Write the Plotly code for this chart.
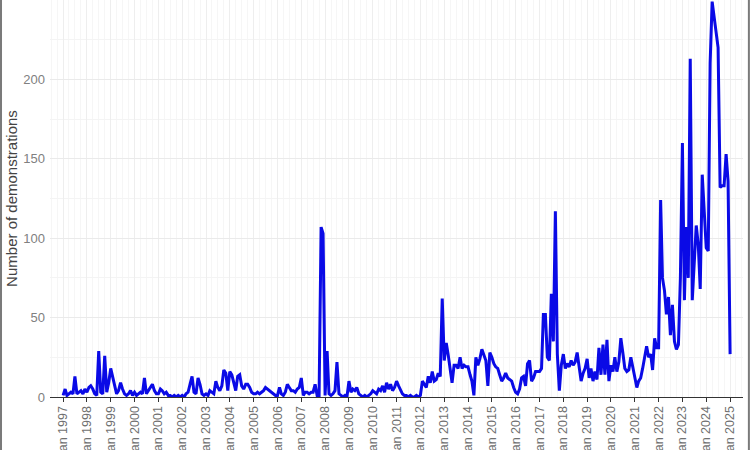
import pandas as pd
import plotly.graph_objects as go

# Monthly number of demonstrations, Jan 1997 - Jan 2025
y1997 = [1, 5, 1, 2, 3, 2, 13, 2, 3, 4, 2, 5]
y1998 = [3, 6, 7, 5, 2, 1, 29, 3, 2, 26, 3, 9]
y1999 = [18, 12, 6, 2, 4, 9, 5, 2, 1, 2, 4, 1]
y2000 = [3, 1, 2, 3, 2, 12, 2, 4, 6, 8, 4, 2]
y2001 = [2, 5, 4, 2, 3, 1, 1, 0, 1, 0, 1, 0]
y2002 = [1, 0, 2, 3, 8, 13, 3, 2, 12, 8, 2, 1]
y2003 = [2, 1, 4, 3, 2, 10, 6, 4, 7, 17, 15, 4]
y2004 = [16, 14, 8, 4, 13, 14, 7, 5, 8, 8, 6, 3]
y2005 = [2, 2, 3, 2, 3, 4, 6, 5, 4, 3, 2, 1]
y2006 = [1, 6, 2, 1, 3, 8, 6, 4, 4, 3, 5, 6]
y2007 = [12, 1, 3, 3, 2, 3, 3, 8, 1, 1, 107, 103]
y2008 = [1, 29, 2, 1, 2, 4, 22, 2, 1, 0, 1, 0]
y2009 = [10, 3, 5, 4, 6, 2, 1, 0, 1, 0, 1, 2]
y2010 = [4, 3, 2, 5, 4, 7, 3, 9, 5, 8, 4, 6]
y2011 = [10, 7, 5, 2, 1, 1, 0, 1, 0, 0, 1, 0]
y2012 = [1, 10, 8, 6, 13, 9, 16, 10, 11, 15, 13, 62]
y2013 = [23, 34, 27, 18, 9, 20, 20, 18, 25, 18, 20, 19]
y2014 = [19, 14, 10, 1, 25, 20, 24, 30, 26, 23, 7, 28]
y2015 = [25, 21, 19, 18, 14, 10, 12, 15, 12, 11, 10, 6]
y2016 = [3, 2, 5, 12, 13, 7, 21, 23, 10, 12, 16, 16]
y2017 = [16, 18, 52, 52, 25, 23, 65, 35, 117, 27, 4, 20]
y2018 = [27, 18, 21, 19, 23, 20, 22, 28, 18, 10, 15, 18]
y2019 = [24, 12, 18, 10, 16, 11, 31, 14, 33, 14, 36, 10]
y2020 = [20, 16, 25, 16, 22, 37, 28, 18, 16, 17, 25, 18]
y2021 = [12, 6, 10, 12, 18, 25, 32, 25, 27, 17, 37, 31]
y2022 = [31, 124, 75, 67, 52, 63, 39, 58, 35, 30, 33, 75]
y2023 = [160, 61, 107, 75, 213, 61, 85, 108, 96, 68, 140, 117]
y2024 = [94, 92, 210, 249, 240, 230, 220, 132, 133, 133, 153, 136]
y2025 = [27]

tick_years = list(range(1997, 2026))
tick_labels = [f"Jan {y}" for y in tick_years]

counts = (y1997 + y1998 + y1999 + y2000 + y2001 + y2002 + y2003 + y2004 + y2005
          + y2006 + y2007 + y2008 + y2009 + y2010 + y2011 + y2012 + y2013 + y2014
          + y2015 + y2016 + y2017 + y2018 + y2019 + y2020 + y2021 + y2022 + y2023
          + y2024 + y2025)
dates = pd.date_range("1997-01-01", periods=len(counts), freq="MS")

fig = go.Figure()
fig.add_trace(go.Scatter(
    x=dates, y=counts, mode="lines",
    line=dict(color="#0a0ae6", width=3),
    hoverinfo="x+y", showlegend=False,
))

font_family = "Liberation Sans, Arial, sans-serif"

fig.update_layout(
    width=750, height=450,
    margin=dict(l=50, r=7, t=0, b=53),
    paper_bgcolor="white", plot_bgcolor="white",
    font=dict(family=font_family, size=12, color="#7f7f7f"),
    xaxis=dict(
        type="date",
        range=["1996-06-14", "2025-07-18"],
        tickmode="array",
        tickvals=[pd.Timestamp(f"{y}-01-01") for y in tick_years],
        ticktext=tick_labels,
        tickangle=-90,
        tickfont=dict(size=12.5, color="#707070"),
        ticks="outside", ticklen=4, tickcolor="#333333", tickwidth=1,
        showline=True, linecolor="#333333", linewidth=1.2,
        showgrid=True, gridcolor="#eeeeee", gridwidth=1,
        minor=dict(showgrid=True, gridcolor="#f6f6f6", dtick="M3"),
        zeroline=False, automargin=False, fixedrange=True,
        ticklabelstandoff=-1,
    ),
    yaxis=dict(
        range=[0, 250],
        tickvals=[0, 50, 100, 150, 200, 250],
        tickfont=dict(size=13, color="#808080"),
        ticks="", showline=False,
        showgrid=True, gridcolor="#eaeaea", gridwidth=1,
        minor=dict(showgrid=True, gridcolor="#f4f4f4", dtick=25),
        zeroline=False, automargin=False,
        title=dict(text="Number of demonstrations",
                   font=dict(size=15, color="#444444"), standoff=2),
        ticklabelstandoff=4,
    ),
    shapes=[
        dict(type="line", xref="paper", yref="paper",
             x0=-0.0707, x1=-0.0707, y0=-0.2, y1=1.05,
             line=dict(color="#7a7a7a", width=2)),
        dict(type="line", xref="paper", yref="paper",
             x0=1.0085, x1=1.0085, y0=-0.2, y1=1.05,
             line=dict(color="#7a7a7a", width=2)),
    ],
)

fig.write_html("out.html")
